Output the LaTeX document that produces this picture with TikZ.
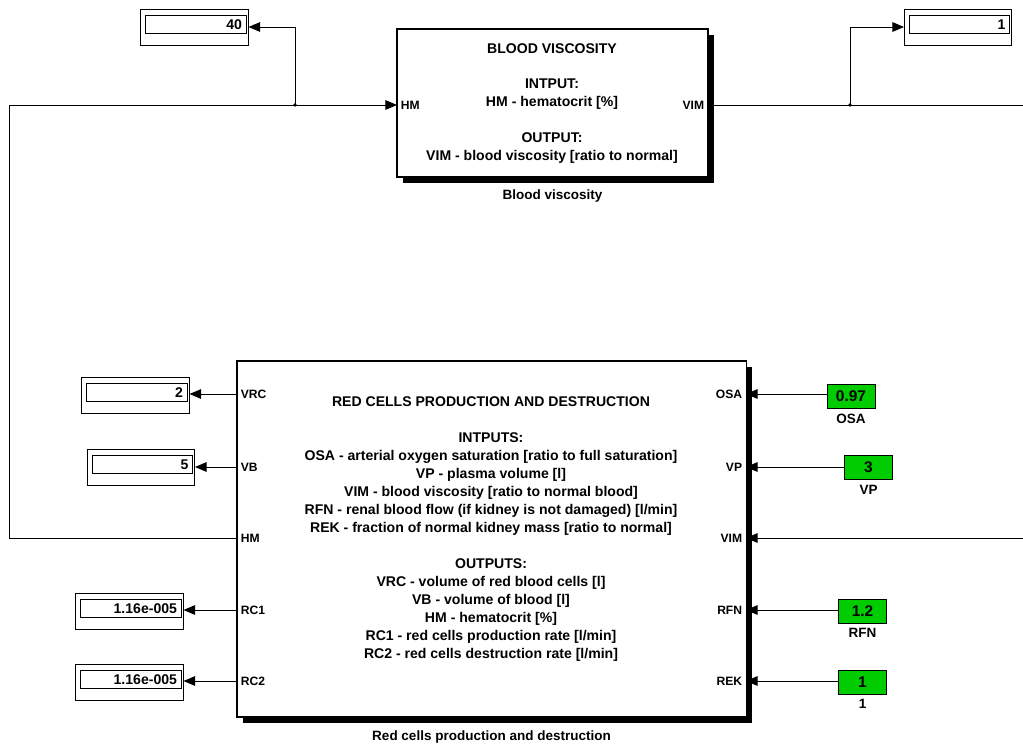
\documentclass[tikz,border=0pt]{standalone}
\usepackage{fontspec}
\setmainfont{Liberation Sans}
\usetikzlibrary{arrows.meta,positioning,shadows}
\definecolor{constgreen}{RGB}{0,204,0}

\tikzset{
  >={Triangle[length=0.29cm,width=0.24cm]},
  block/.style={draw, fill=white, line width=0.8pt, drop shadow={shadow xshift=0.15cm, shadow yshift=-0.15cm, fill=black, opacity=1}},
  blocktext/.style={align=center, font=\fontsize{10}{12.8}\selectfont\bfseries},
  port/.style={inner sep=1pt, font=\fontsize{8.6}{10}\selectfont\bfseries},
  disp/.style={draw, minimum width=2.675cm, minimum height=0.9cm, inner sep=0pt},
  dispval/.style={draw, minimum height=0.45cm, text width=2.3cm, inner xsep=0.1cm, inner ysep=0pt, align=right, font=\fontsize{10}{10}\selectfont\bfseries},
  const/.style={draw, fill=constgreen, minimum width=1.2cm, minimum height=0.6cm, inner sep=0pt, font=\fontsize{11}{11}\selectfont\bfseries},
  caption/.style={inner sep=1pt, font=\fontsize{9.6}{11}\selectfont\bfseries}
}

\begin{document}
\begin{tikzpicture}[x=0.025cm, y=-0.025cm, line width=0.7pt]
  \useasboundingbox (0,0) rectangle (1023,743);

  % blood viscosity subsystem
  \node (bv) [block, minimum width=7.775cm, minimum height=3.7cm] at (552.5,103) {};
  \node (bvtext) [blocktext] at (552,103.5) {BLOOD VISCOSITY\\[12.6pt] INTPUT:\\ HM - hematocrit [\%]\\[12.6pt] OUTPUT:\\ VIM - blood viscosity [ratio to normal]};
  \node (bvcap) [caption, below=0.25cm of bv] {Blood viscosity};
  \node (bvhmlab) [port, anchor=west] at (399,105) {HM};
  \node (bvvimlab) [port, anchor=east] at (706,105) {VIM};
  \coordinate (bvhm) at (397,105);
  \coordinate (bvvim) at (708,105);

  % red cells subsystem
  \node (rc) [block, minimum width=12.725cm, minimum height=8.9cm] at (491.5,539) {};
  \node (rctext) [blocktext] at (491,529) {RED CELLS PRODUCTION AND DESTRUCTION\\[12.8pt] INTPUTS:\\
    OSA - arterial oxygen saturation [ratio to full saturation]\\
    VP - plasma volume [l]\\
    VIM - blood viscosity [ratio to normal blood]\\
    RFN - renal blood flow (if kidney is not damaged) [l/min]\\
    REK - fraction of normal kidney mass [ratio to normal]\\[12.8pt]
    OUTPUTS:\\
    VRC - volume of red blood cells [l]\\
    VB - volume of blood [l]\\
    HM - hematocrit [\%]\\
    RC1 - red cells production rate [l/min]\\
    RC2 - red cells destruction rate [l/min]};
  \node (rccap) [caption, below=0.27cm of rc] {Red cells production and destruction};

  % ports, left side (outputs)
  \node (rcvrclab) [port, anchor=west] at (239,394) {VRC};
  \node (rcvblab) [port, anchor=west] at (239,467) {VB};
  \node (rchmlab) [port, anchor=west] at (239,538) {HM};
  \node (rcrc1lab) [port, anchor=west] at (239,610) {RC1};
  \node (rcrc2lab) [port, anchor=west] at (239,681) {RC2};
  \coordinate (rcvrc) at (237,394);
  \coordinate (rcvb) at (237,467);
  \coordinate (rchm) at (237,538);
  \coordinate (rcrc1) at (237,610);
  \coordinate (rcrc2) at (237,681);

  % ports, right side (inputs)
  \node (rcosalab) [port, anchor=east] at (744,394) {OSA};
  \node (rcvplab) [port, anchor=east] at (744,467) {VP};
  \node (rcvimlab) [port, anchor=east] at (744,538) {VIM};
  \node (rcrfnlab) [port, anchor=east] at (744,610) {RFN};
  \node (rcreklab) [port, anchor=east] at (744,681) {REK};
  \coordinate (rcosa) at (746,394);
  \coordinate (rcvp) at (746,467);
  \coordinate (rcvim) at (746,538);
  \coordinate (rcrfn) at (746,610);
  \coordinate (rcrek) at (746,681);

  % displays
  \node (dhm) [disp] at (194.5,27) {};
  \node (dhmval) [dispval, anchor=north east] at ([xshift=-0.05cm,yshift=-0.16cm]dhm.north east) {40};
  \node (dvim) [disp] at (958,27) {};
  \node (dvimval) [dispval, anchor=north east] at ([xshift=-0.05cm,yshift=-0.16cm]dvim.north east) {1};
  \node (dvrc) [disp] at (135.5,395.5) {};
  \node (dvrcval) [dispval, anchor=north east] at ([xshift=-0.05cm,yshift=-0.16cm]dvrc.north east) {2};
  \node (dvb) [disp] at (141,467.5) {};
  \node (dvbval) [dispval, anchor=north east] at ([xshift=-0.05cm,yshift=-0.16cm]dvb.north east) {5};
  \node (drc1) [disp] at (129.5,611) {};
  \node (drc1val) [dispval, anchor=north east] at ([xshift=-0.05cm,yshift=-0.16cm]drc1.north east) {1.16e-005};
  \node (drc2) [disp] at (129.5,682) {};
  \node (drc2val) [dispval, anchor=north east] at ([xshift=-0.05cm,yshift=-0.16cm]drc2.north east) {1.16e-005};

  % constants
  \node (cosa) [const] at (851,396) {0.97};
  \node (cosalab) [caption, below=0.08cm of cosa] {OSA};
  \node (cvp) [const] at (868.5,467.5) {3};
  \node (cvplab) [caption, below=0.08cm of cvp] {VP};
  \node (crfn) [const] at (862.5,611) {1.2};
  \node (crfnlab) [caption, below=0.08cm of crfn] {RFN};
  \node (crek) [const] at (862.5,682) {1};
  \node (creklab) [caption, below=0.08cm of crek] {1};

  % signal lines
  \coordinate (loopl) at (9,538);
  \coordinate (jhm) at (295,105);
  \coordinate (jvim) at (850,105);
  \coordinate (edgetop) at (1023,105);
  \coordinate (edgebot) at (1023,538);

  \draw[->] (rchm) -- (loopl) |- (bvhm);
  \draw[->] (jhm) |- (dhm.east);
  \draw (bvvim) -- (edgetop);
  \draw[->] (jvim) |- (dvim.west);
  \draw[->] (edgebot) -- (rcvim);
  \fill (jhm) circle (1.8);
  \fill (jvim) circle (1.8);

  \draw[->] (rcvrc) -- (rcvrc -| dvrc.east);
  \draw[->] (rcvb) -- (rcvb -| dvb.east);
  \draw[->] (rcrc1) -- (rcrc1 -| drc1.east);
  \draw[->] (rcrc2) -- (rcrc2 -| drc2.east);

  \draw[->] (rcosa -| cosa.west) -- (rcosa);
  \draw[->] (rcvp -| cvp.west) -- (rcvp);
  \draw[->] (rcrfn -| crfn.west) -- (rcrfn);
  \draw[->] (rcrek -| crek.west) -- (rcrek);
\end{tikzpicture}
\end{document}
